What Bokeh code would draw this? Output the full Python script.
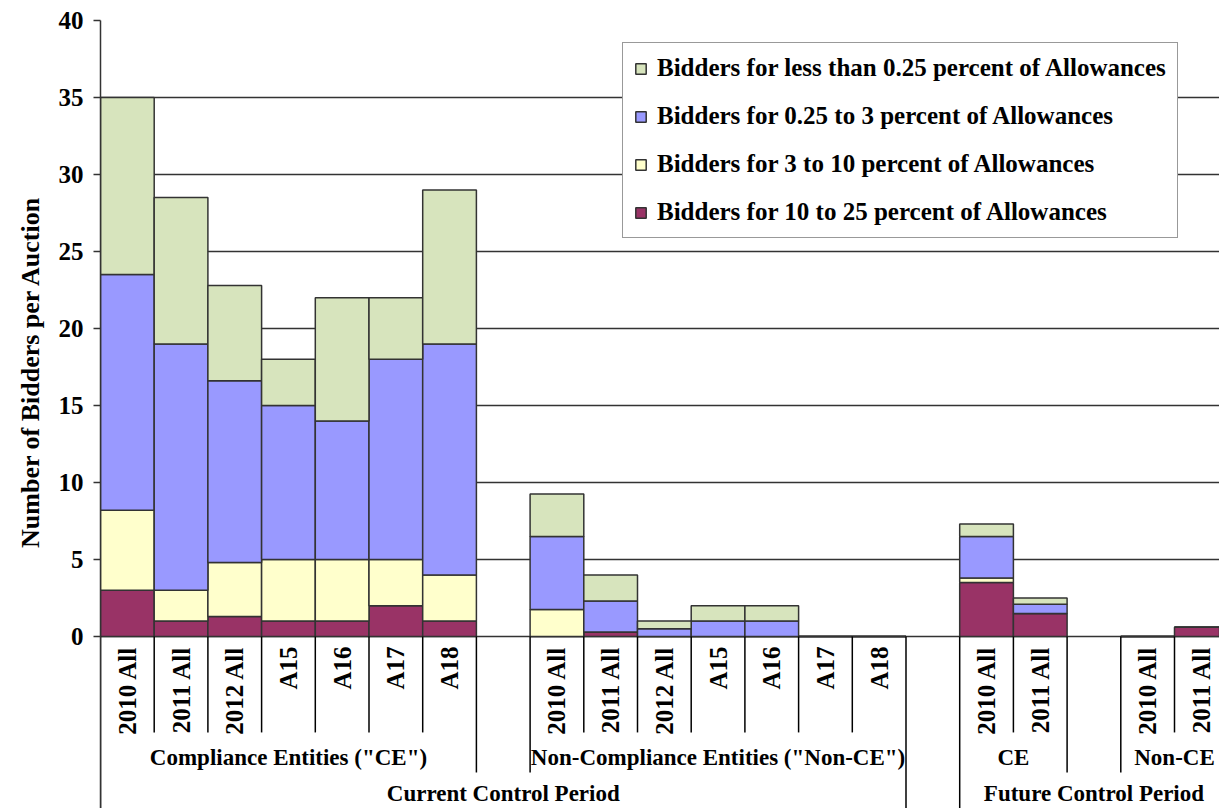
import math
from bokeh.plotting import figure
from bokeh.models import Range1d, FixedTicker, Legend, LegendItem, ColumnDataSource, Title
from bokeh.core.properties import value
from bokeh.embed import file_html
from bokeh.resources import INLINE

# ---------------- data ----------------
period_names = ["Current Control Period", "Current Control Period",
                "Future Control Period", "Future Control Period"]
group_names = ['Compliance Entities ("CE")', 'Non-Compliance Entities ("Non-CE")', "CE", "Non-CE"]
group_categories = [
    ["2010 All", "2011 All", "2012 All", "A15", "A16", "A17", "A18"],
    ["2010 All", "2011 All", "2012 All", "A15", "A16", "A17", "A18"],
    ["2010 All", "2011 All"],
    ["2010 All", "2011 All"],
]
series_names = [
    "Bidders for 10 to 25 percent of Allowances",
    "Bidders for 3 to 10 percent of Allowances",
    "Bidders for 0.25 to 3 percent of Allowances",
    "Bidders for less than 0.25 percent of Allowances",
]
bidders_10_25 = [3.0, 1.0, 1.3, 1.0, 1.0, 2.0, 1.0,
                 0.0, 0.3, 0.0, 0.0, 0.0, 0.0, 0.0,
                 3.5, 1.5,
                 0.0, 0.6]
bidders_3_10 = [5.2, 2.0, 3.5, 4.0, 4.0, 3.0, 3.0,
                1.75, 0.0, 0.0, 0.0, 0.0, 0.0, 0.0,
                0.3, 0.0,
                0.0, 0.0]
bidders_025_3 = [15.3, 16.0, 11.8, 10.0, 9.0, 13.0, 15.0,
                 4.75, 2.0, 0.5, 1.0, 1.0, 0.0, 0.0,
                 2.7, 0.6,
                 0.0, 0.0]
bidders_lt_025 = [11.5, 9.5, 6.2, 3.0, 8.0, 4.0, 10.0,
                  2.75, 1.7, 0.5, 1.0, 1.0, 0.0, 0.0,
                  0.8, 0.4,
                  0.0, 0.0]
y_ticks = [0, 5, 10, 15, 20, 25, 30, 35, 40]

# ---------------- style ----------------
colors = ["#993366", "#FFFFCC", "#9999FF", "#D7E4BD"]
FONT = value("Liberation Serif")
LINE = "#333333"

# ---------------- slot layout (one empty slot between groups) ----------------
x_centers, cat_labels = [], []
group_spans = []
slot = 0
for gi, cats in enumerate(group_categories):
    start = slot
    for c in cats:
        x_centers.append(slot + 0.5)
        cat_labels.append(c)
        slot += 1
    group_spans.append((start, slot))
    slot += 1  # gap
period_spans = {}
for gi, pn in enumerate(period_names):
    s, e = group_spans[gi]
    if pn not in period_spans:
        period_spans[pn] = [s, e]
    else:
        period_spans[pn][1] = e

X_MAX = 20.838
Y_MIN = -11.169
Y_CAT = -6.23
Y_GRP = -8.83

src = ColumnDataSource(dict(x=x_centers, s0=bidders_10_25, s1=bidders_3_10,
                            s2=bidders_025_3, s3=bidders_lt_025))

p = figure(width=1219, height=808, output_backend="svg", toolbar_location=None,
           x_axis_type=None, x_range=Range1d(0, X_MAX), y_range=Range1d(Y_MIN, 40),
           min_border_left=100, min_border_top=20, min_border_bottom=0, min_border_right=0)
p.outline_line_color = None
p.background_fill_color = "white"
p.border_fill_color = "white"
p.xgrid.visible = False

renderers = p.vbar_stack(["s0", "s1", "s2", "s3"], x="x", width=1.0, source=src,
                         fill_color=colors, line_color=LINE, line_width=1.5)

# y axis
p.yaxis.ticker = FixedTicker(ticks=y_ticks)
p.ygrid.ticker = FixedTicker(ticks=y_ticks)
p.ygrid.grid_line_color = LINE
p.ygrid.grid_line_width = 1.3
p.yaxis.axis_line_color = LINE
p.yaxis.axis_line_width = 1.5
p.yaxis.major_tick_line_color = LINE
p.yaxis.major_tick_line_width = 1.5
p.yaxis.major_tick_out = 7
p.yaxis.major_tick_in = 0
p.yaxis.minor_tick_line_color = None
p.yaxis.major_label_text_font = "Liberation Serif"
p.yaxis.major_label_text_font_style = "bold"
p.yaxis.major_label_text_font_size = "25px"
p.yaxis.major_label_text_color = "black"
p.yaxis.major_label_standoff = 10

p.add_layout(Title(text="Number of Bidders per Auction", align="right", offset=175,
                   standoff=18, vertical_align="top",
                   text_font="Liberation Serif", text_font_style="bold",
                   text_font_size="26px", text_color="black"), "left")

# separator lines in the category area
sx, sy1 = [], []
for gi, (s, e) in enumerate(group_spans):
    for b in range(s + 1, e):
        sx.append(b); sy1.append(Y_CAT)
for pn, (s, e) in period_spans.items():
    sx.append(s); sy1.append(Y_MIN)
    if e < X_MAX:
        sx.append(e); sy1.append(Y_MIN)
for gi, (s, e) in enumerate(group_spans):
    ps, pe = period_spans[period_names[gi]]
    if s != ps:
        sx.append(s); sy1.append(Y_GRP)
    if e != pe:
        sx.append(e); sy1.append(Y_GRP)
p.segment(x0=sx, y0=[0] * len(sx), x1=sx, y1=sy1, line_color="black", line_width=1.5)

# category labels
p.text(x=x_centers, y=[-0.65] * len(x_centers), text=cat_labels, angle=math.pi / 2,
       text_align="right", text_baseline="middle", text_font=FONT,
       text_font_style="bold", text_font_size="25px", text_color="black")
# group labels
gx = [(s + e) / 2 for s, e in group_spans]
p.text(x=gx, y=[-7.86] * len(gx), text=group_names, text_align="center",
       text_baseline="middle", text_font=FONT, text_font_style="bold",
       text_font_size="23px", text_color="black")
# period labels
px = [(s + e) / 2 for s, e in period_spans.values()]
p.text(x=px, y=[-10.22] * len(px), text=list(period_spans.keys()), text_align="center",
       text_baseline="middle", text_font=FONT, text_font_style="bold",
       text_font_size="23px", text_color="black")

# legend (reverse order of stacking)
items = [LegendItem(label=series_names[i], renderers=[renderers[i]]) for i in [3, 2, 1, 0]]
legend = Legend(items=items, location=(522, 570), orientation="vertical")
legend.label_text_font = "Liberation Serif"
legend.label_text_font_style = "bold"
legend.label_text_font_size = "25px"
legend.label_text_color = "black"
legend.glyph_width = 13
legend.glyph_height = 13
legend.label_standoff = 10
legend.spacing = 20
legend.padding = 11
legend.margin = 0
legend.border_line_color = LINE
legend.border_line_width = 1.5
legend.background_fill_color = "white"
legend.background_fill_alpha = 1.0
p.add_layout(legend, "center")

open("out.html", "w").write(file_html(p, INLINE))
